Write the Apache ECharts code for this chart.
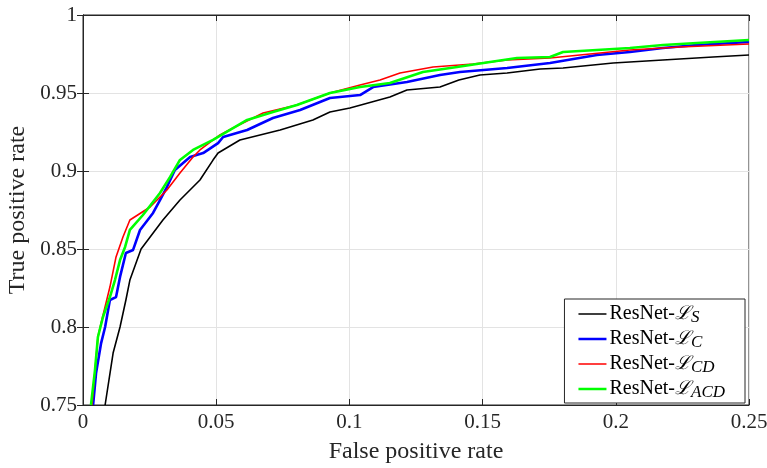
<!DOCTYPE html>
<html>
<head>
<meta charset="utf-8">
<script src="https://cdn.jsdelivr.net/npm/echarts@6/dist/echarts.min.js"></script>
<style>html,body{margin:0;padding:0;background:#fff}#c{width:767px;height:468px}</style>
</head>
<body>
<div id="c"></div>
<script>
var xTicks = [0, 0.05, 0.1, 0.15, 0.2, 0.25];
var yTicks = [0.75, 0.8, 0.85, 0.9, 0.95, 1];
var seriesKeys = ['S', 'C', 'CD', 'ACD'];

var rocS = [[0.0083,0.75],[0.0113,0.7833],[0.0139,0.8],[0.0161,0.8173],[0.0176,0.8301],[0.0218,0.85],[0.0252,0.8577],[0.0300,0.8686],[0.0364,0.8814],[0.0439,0.8942],[0.0488,0.907],[0.0507,0.9115],[0.0589,0.9199],[0.0740,0.9263],[0.0863,0.9327],[0.0927,0.9378],[0.1002,0.9404],[0.1152,0.9474],[0.1216,0.9519],[0.1340,0.9538],[0.1411,0.9583],[0.1490,0.9615],[0.1592,0.9628],[0.1716,0.9654],[0.1802,0.966],[0.1990,0.9692],[0.2177,0.9712],[0.2365,0.9731],[0.25,0.9744]];
var rocC = [[0.0038,0.75],[0.0049,0.7705],[0.0068,0.7897],[0.0083,0.8],[0.0101,0.8173],[0.0124,0.8192],[0.0139,0.8321],[0.0161,0.8474],[0.0188,0.8494],[0.0214,0.8622],[0.0263,0.8731],[0.0289,0.8814],[0.0315,0.8897],[0.0345,0.9006],[0.0402,0.909],[0.0451,0.9115],[0.0507,0.9179],[0.0526,0.9218],[0.0616,0.9263],[0.0713,0.934],[0.0815,0.9391],[0.0927,0.9468],[0.1040,0.9487],[0.1089,0.9538],[0.1216,0.9571],[0.1340,0.9615],[0.1415,0.9635],[0.1592,0.966],[0.1753,0.9692],[0.1929,0.9744],[0.2053,0.9763],[0.2177,0.9788],[0.2305,0.9808],[0.25,0.9827]];
var rocCD = [[0.0034,0.75],[0.0056,0.7936],[0.0068,0.8026],[0.0101,0.8256],[0.0124,0.8449],[0.0150,0.8577],[0.0176,0.8686],[0.0252,0.8769],[0.0315,0.8878],[0.0364,0.8987],[0.0413,0.909],[0.0439,0.9135],[0.0514,0.9231],[0.0563,0.9276],[0.0676,0.9372],[0.0803,0.9423],[0.0927,0.95],[0.1040,0.9551],[0.1115,0.9583],[0.1190,0.9628],[0.1314,0.9667],[0.1464,0.9686],[0.1592,0.9712],[0.1753,0.9724],[0.1903,0.975],[0.2053,0.9776],[0.2241,0.9795],[0.25,0.9814]];
var rocACD = [[0.0030,0.75],[0.0045,0.7724],[0.0056,0.7936],[0.0075,0.8064],[0.0101,0.8192],[0.0120,0.8301],[0.0139,0.8429],[0.0158,0.8513],[0.0176,0.8622],[0.0225,0.8718],[0.0289,0.8859],[0.0327,0.8962],[0.0364,0.9071],[0.0413,0.9135],[0.0488,0.9199],[0.0616,0.9327],[0.0713,0.9378],[0.0803,0.9423],[0.0927,0.95],[0.1040,0.9538],[0.1152,0.9564],[0.1276,0.9635],[0.1404,0.9667],[0.1528,0.9699],[0.1629,0.9724],[0.1753,0.9731],[0.1802,0.9763],[0.1929,0.9776],[0.2053,0.9788],[0.2177,0.9808],[0.2305,0.9821],[0.25,0.984]];

var axisColor = '#262626';
var font = 'Liberation Serif';
var chart = echarts.init(document.getElementById('c'));

function mkSeries(name, data, color, width) {
  return {
    name: name, type: 'line', data: data, xAxisIndex: 0, yAxisIndex: 0,
    showSymbol: false, symbol: 'none', clip: true,
    lineStyle: { color: color, width: width }, itemStyle: { color: color },
    animation: false
  };
}
function lineIcon(t) {
  var a = (14 - t) / 2, b = a + t;
  return 'path://M0,0 L0.01,0 L0.01,0.01 Z M0,' + a + ' L28,' + a + ' L28,' + b + ' L0,' + b + ' Z M27.99,13.99 L28,13.99 L28,14 Z';
}

chart.setOption({
  animation: false,
  grid: { left: 83, right: 18, top: 15, bottom: 63, show: true, borderColor: axisColor, borderWidth: 1, backgroundColor: '#fff', containLabel: false, outerBoundsMode: 'none' },
  xAxis: [{
    type: 'value', min: 0, max: 0.25, interval: 0.05,
    name: 'False positive rate', nameLocation: 'middle', nameGap: 35,
    nameTextStyle: { fontFamily: font, fontSize: 24, color: axisColor },
    axisLine: { show: true, onZero: false, lineStyle: { color: axisColor } },
    axisTick: { show: true, inside: true, length: 6, lineStyle: { color: axisColor } },
    axisLabel: { fontFamily: font, fontSize: 21, color: axisColor, margin: 7 },
    splitLine: { show: true, lineStyle: { color: '#e3e3e3', width: 1 } }
  }, {
    type: 'value', min: 0, max: 0.25, interval: 0.05, position: 'top',
    axisLine: { show: true, lineStyle: { color: axisColor } },
    axisTick: { show: true, inside: true, length: 6, lineStyle: { color: axisColor } },
    axisLabel: { show: false }, splitLine: { show: false }
  }],
  yAxis: [{
    type: 'value', min: 0.75, max: 1, interval: 0.05,
    name: 'True positive rate', nameLocation: 'middle', nameGap: 52, nameRotate: 90,
    nameTextStyle: { fontFamily: font, fontSize: 24, color: axisColor },
    axisLine: { show: true, onZero: false, lineStyle: { color: axisColor } },
    axisTick: { show: true, inside: true, length: 6, lineStyle: { color: axisColor } },
    axisLabel: { fontFamily: font, fontSize: 21, color: axisColor, margin: 6 },
    splitLine: { show: true, lineStyle: { color: '#e3e3e3', width: 1 } }
  }, {
    type: 'value', min: 0.75, max: 1, interval: 0.05, position: 'right',
    axisLine: { show: true, lineStyle: { color: axisColor } },
    axisTick: { show: true, inside: true, length: 6, lineStyle: { color: axisColor } },
    axisLabel: { show: false }, splitLine: { show: false }
  }],
  legend: {
    orient: 'vertical', right: 22, bottom: 65,
    backgroundColor: '#fff', borderColor: axisColor, borderWidth: 1,
    padding: [2, 20, 2, 14], itemGap: 0, itemWidth: 28, itemHeight: 14,
    data: [
      { name: seriesKeys[0], icon: lineIcon(1.6) },
      { name: seriesKeys[1], icon: lineIcon(2.6) },
      { name: seriesKeys[2], icon: lineIcon(1.6) },
      { name: seriesKeys[3], icon: lineIcon(2.6) }
    ],
    formatter: function (n) { return '{m|ResNet-}{l|ℒ}{s|' + n + '}'; },
    textStyle: {
      color: '#000', fontFamily: font, fontSize: 20, padding: [0, 0, 0, -2], lineHeight: 24,
      rich: {
        m: { fontFamily: font, fontSize: 20, color: '#000', lineHeight: 24 },
        l: { fontFamily: 'DejaVu Serif', fontSize: 19, fontStyle: 'italic', color: '#000', lineHeight: 24 },
        s: { fontFamily: font, fontSize: 17, fontStyle: 'italic', color: '#000', lineHeight: 16, padding: [8, 0, 0, 0], verticalAlign: 'bottom' }
      }
    }
  },
  series: [
    mkSeries('S', rocS, '#000000', 1.6),
    mkSeries('C', rocC, '#0000ff', 2.6),
    mkSeries('CD', rocCD, '#ff0000', 1.6),
    mkSeries('ACD', rocACD, '#00ff00', 2.6)
  ]
});
</script>
</body>
</html>
